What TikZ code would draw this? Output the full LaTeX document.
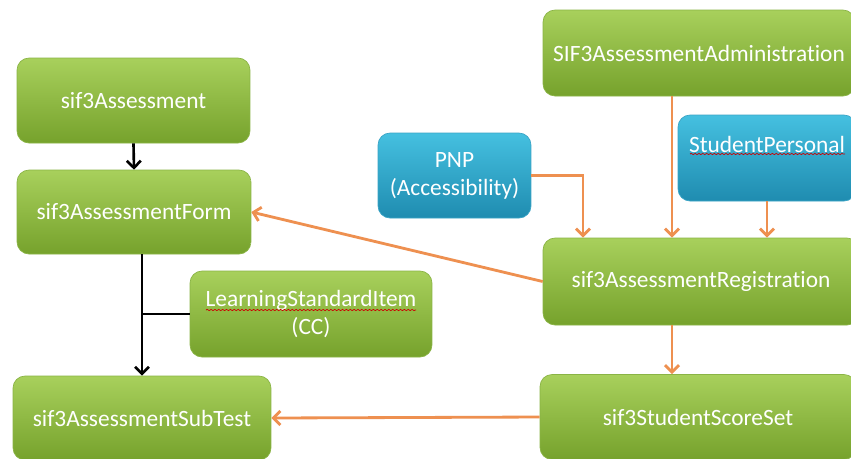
\documentclass[tikz,border=0pt]{standalone}
\usepackage{fontspec}
\setmainfont{Carlito}[Ligatures=NoCommon]
\usetikzlibrary{arrows.meta,decorations.pathmorphing}
\definecolor{greenTop}{HTML}{A8D05C}
\definecolor{greenBot}{HTML}{76A22C}
\definecolor{greenLine}{HTML}{8AB445}
\definecolor{blueTop}{HTML}{45C0E0}
\definecolor{blueBot}{HTML}{1F8CB0}
\definecolor{blueLine}{HTML}{3AA4C6}
\definecolor{arrowOrange}{HTML}{EE9050}
\begin{document}
\begin{tikzpicture}[x=0.02cm,y=-0.02cm,
    box/.style={rounded corners=0.24cm,draw=greenLine,top color=greenTop,bottom color=greenBot,
        text=white,font=\fontsize{13.3}{16}\selectfont,align=center,inner sep=2pt},
    bluebox/.style={box,draw=blueLine,top color=blueTop,bottom color=blueBot},
    blackarrow/.style={line width=1.5pt,black,-{Straight Barb[length=4pt,width=8pt]}},
    orangearrow/.style={line width=1.6pt,arrowOrange,-{Straight Barb[length=4pt,width=8pt]}},
    spell/.style={red!80!black,line width=0.4pt,decorate,decoration={snake,amplitude=0.35pt,segment length=2.2pt}}]
        \clip (0,0) rectangle (851,458);
        \fill[white] (0,0) rectangle (851,458);
        % left column
        \node[box,minimum width=4.66cm,minimum height=1.7cm] (asmt) at (133.5,100.5) {sif3Assessment};
        \node[box,minimum width=4.68cm,minimum height=1.68cm] (form) at (134,212) {sif3AssessmentForm};
        \node[box,minimum width=4.84cm,minimum height=1.72cm] (lsi) at (311,314) {LearningStandardItem\\(CC)};
        \node[box,minimum width=5.16cm,minimum height=1.68cm] (sub) at (142,418) {sif3AssessmentSubTest};
        % right column
        \node[box,minimum width=6.24cm,minimum height=1.72cm] (admin) at (699,53) {SIF3AssessmentAdministration};
        \node[bluebox,minimum width=3.06cm,minimum height=1.7cm] (pnp) at (454.5,175.5) {PNP\\(Accessibility)};
        \node[bluebox,minimum width=3.56cm,minimum height=1.72cm] (sp) at (767,158) {StudentPersonal\\\mbox{}};
        \node[box,minimum width=6.32cm,minimum height=1.74cm] (reg) at (701,281.5) {sif3AssessmentRegistration};
        \node[box,minimum width=6.32cm,minimum height=1.7cm] (score) at (698,417) {sif3StudentScoreSet};
        % spell-check marks
        \draw[spell] (206,310) -- (416,310);
        \draw[spell] (690,154) -- (845,154);
        % connectors
        \draw[blackarrow] (asmt.south) -- (form.north);
        \draw[blackarrow] (form.south -| sub.north) -- (sub.north);
        \draw[line width=1.5pt] (lsi.west) -- (lsi.west -| sub.north);
        \draw[orangearrow] (reg.west) -- (form.east);
        \draw[orangearrow] ([xshift=-0.54cm]admin.south) -- ([xshift=-0.54cm]admin.south |- reg.north);
        \draw[orangearrow] (pnp.east) -| ([xshift=-2.36cm]reg.north);
        \draw[orangearrow] (sp.south) -- (sp.south |- reg.north);
        \draw[orangearrow] ([xshift=-0.58cm]reg.south) -- ([xshift=-0.58cm]reg.south |- score.north);
        \draw[orangearrow] (score.west) -- (sub.east);
\end{tikzpicture}
\end{document}
